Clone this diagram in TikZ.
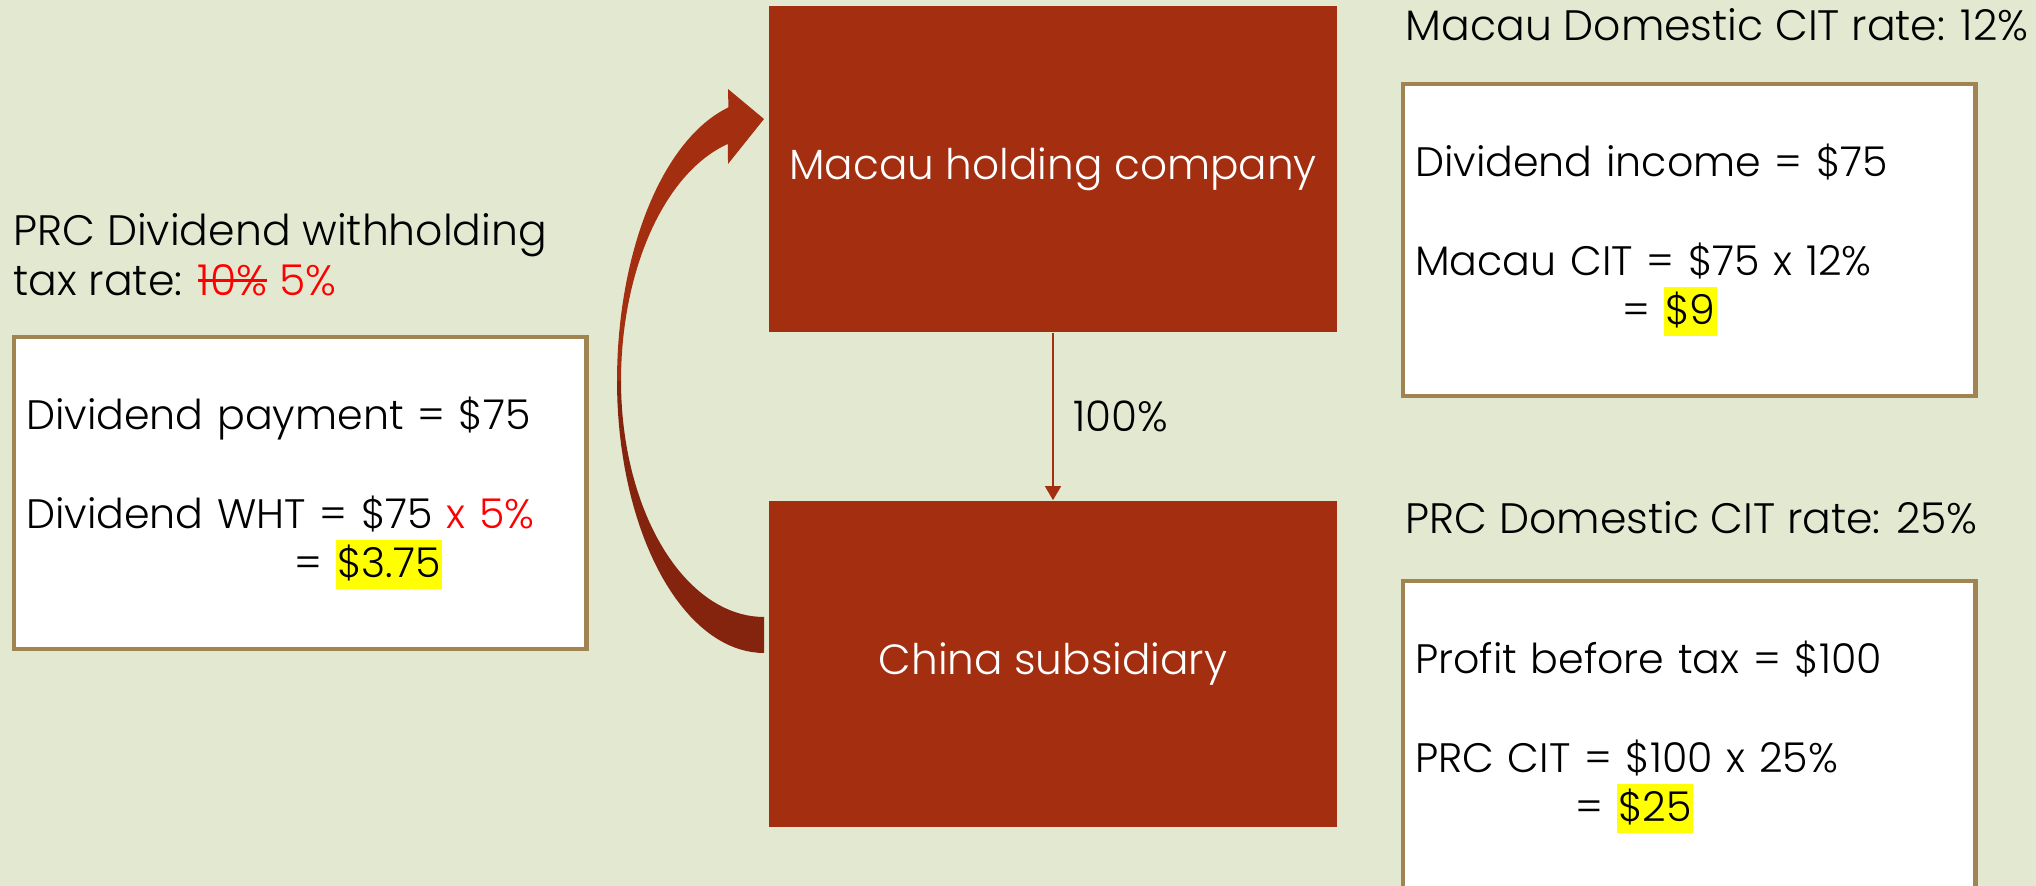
\documentclass[tikz,border=0pt]{standalone}
\usepackage{fontspec}
\setmainfont{Poppins}[UprightFont=* Light]
\usepackage{xcolor}
\usetikzlibrary{arrows.meta,positioning}

\definecolor{slidebg}{RGB}{227,233,209}
\definecolor{boxred}{RGB}{164,46,16}
\definecolor{boxdark}{RGB}{133,36,14}
\definecolor{boxrim}{RGB}{160,132,82}
\definecolor{markyellow}{RGB}{255,255,0}

\newcommand{\hilite}[1]{{\setlength{\fboxsep}{0.4pt}\colorbox{markyellow}{\rule[-0.26em]{0pt}{1.14em}#1}}}
\newcommand{\strikeout}[1]{\setbox0\hbox{#1}\rlap{\raisebox{0.33em}{\rule{\wd0}{0.7pt}}}\box0\relax}

\begin{document}
\begin{tikzpicture}[x=0.01cm, y=-0.01cm,
  entity/.style={fill=boxred, text=white, minimum width=5.68cm,
                 minimum height=3.26cm, font=\fontsize{12}{14.5}\selectfont},
  calcbox/.style={draw=boxrim, line width=1.2pt, fill=white, anchor=north west,
                  text width=5.48cm, inner xsep=0.12cm, minimum height=3.12cm,
                  align=left, font=\fontsize{11.7}{14}\selectfont},
  ratelabel/.style={inner sep=0pt, align=left, font=\fontsize{12.1}{14.2}\selectfont},
  owns/.style={draw=boxred, line width=0.6pt, -{Triangle[length=4pt,width=4.5pt]}},
]
  \useasboundingbox (0,0) rectangle (2036,886);
  \clip (0,0) rectangle (2036,886);
  \fill[slidebg] (0,0) rectangle (2036,886);

  % Entities
  \node[entity] (macau) at (1053,169) {Macau holding company};
  \node[entity] (china) at (1053,664) {China subsidiary};

  % Ownership
  \draw[owns] (macau) -- (china)
    node[midway, right=0.19cm, inner sep=0pt, font=\fontsize{12}{14.5}\selectfont] {100\%};

  % Dividend flow (curved block arrow)
  \coordinate (hub) at (764,381);
  \fill[boxred, shift={(hub)}]
    plot[domain=104:180, samples=40] ({147*cos(\x)},{-282*sin(\x)})
    -- plot[domain=180:104.6, samples=40] ({143*cos(\x)},{-245*sin(\x)})
    -- (-36,-217) -- (0,-262) -- (-36,-292) -- cycle;
  \fill[boxdark, shift={(hub)}]
    plot[domain=180:270, samples=40] ({147*cos(\x)},{-272*sin(\x)})
    -- (0,236)
    -- plot[domain=270:180, samples=40] ({143*cos(\x)},{-236*sin(\x)}) -- cycle;

  % Rates
  \node[ratelabel, anchor=north west] (whtrate) at (13,213)
    {PRC Dividend withholding\\
     tax rate: \textcolor{red}{\strikeout{10\%} 5\%}};
  \node[ratelabel, anchor=base west] (macrate) at (1405,41)
    {Macau Domestic CIT rate: 12\%};
  \node[ratelabel, anchor=base west] (prcrate) at (1405,534)
    {PRC Domestic CIT rate: 25\%};

  % Calculations
  \node[calcbox] (whtcalc) at (12,335)
    {Dividend payment = \$75\\[14pt]
     Dividend WHT = \$75 \textcolor{red}{x 5\%}\\
     \hspace*{2.68cm}= \hilite{\$3.75}};
  \node[calcbox] (maccalc) at (1401,82)
    {Dividend income = \$75\\[14pt]
     Macau CIT = \$75 x 12\%\\
     \hspace*{2.07cm}= \hilite{\$9}};
  \node[calcbox] (prccalc) at (1401,579)
    {Profit before tax = \$100\\[14pt]
     PRC CIT = \$100 x 25\%\\
     \hspace*{1.60cm}= \hilite{\$25}};
\end{tikzpicture}
\end{document}
